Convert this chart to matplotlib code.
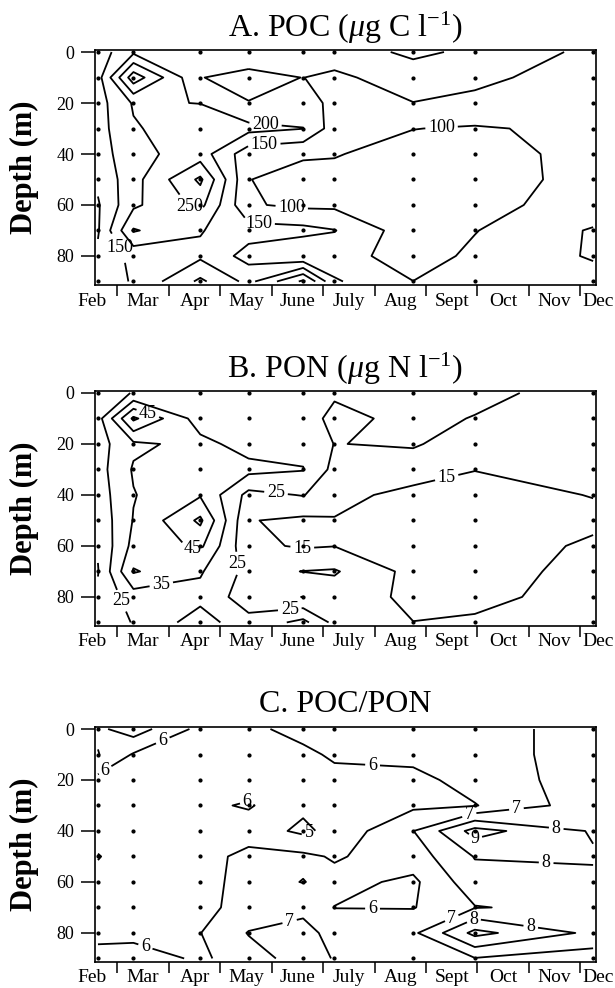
import numpy as np
import matplotlib.pyplot as plt
from matplotlib.transforms import blended_transform_factory

plt.rcParams['font.family'] = 'Liberation Serif'
plt.rcParams['mathtext.fontset'] = 'custom'
plt.rcParams['mathtext.rm'] = 'Liberation Serif'
plt.rcParams['mathtext.it'] = 'Liberation Serif:italic'

# sampling dates in months (1.0 = 1 Feb) and sampled depths (m)
dates = [1.62, 2.31, 3.61, 4.55, 5.61, 6.22, 7.75, 8.95, 11.25]
depths = [0, 10, 20, 30, 40, 50, 60, 70, 80, 90]
months = ['Feb', 'Mar', 'Apr', 'May', 'June', 'July', 'Aug', 'Sept', 'Oct', 'Nov', 'Dec']

# POC profiles (ug C/l), one list per sampling date, 0-90 m
poc = [
    [125, 130, 130, 130, 125, 110, 95, 95, 110, 120],
    [190, 330, 205, 195, 185, 182, 190, 255, 165, 155],
    [170, 151, 199, 230, 224, 310, 265, 203, 190, 260],
    [170, 140, 151, 215, 120, 101, 105, 170, 132, 185],
    [175, 150.5, 175, 201, 105, 85, 90, 165, 103, 310],
    [175, 140, 135, 125, 103, 85, 90, 152, 120, 156],
    [210, 175, 149, 101, 80, 75, 75, 69.5, 77.5, 100.5],
    [190, 160, 140, 95, 85, 85, 88, 98, 110, 120],
    [137, 129, 125, 112, 112, 111, 117, 155, 155, 130],
]

# PON profiles (ug N/l)
pon = [
    [20, 21, 21, 21, 20, 18, 16, 14.5, 17, 19],
    [25.5, 57, 33, 36, 34.5, 35.5, 38, 46, 30, 25.5],
    [28, 30, 38, 40, 44, 57, 47, 36, 32, 40],
    [30, 29, 31, 38, 22, 15.5, 17, 22, 20, 28],
    [28, 30, 31, 35.5, 25.5, 13, 14, 25.2, 14.8, 38],
    [26.5, 22, 24.8, 22, 18, 14.5, 14.8, 26, 20, 22],
    [30, 28, 26, 20, 12, 10, 9, 11.7, 13, 15.1],
    [28, 24.5, 20, 15.2, 12, 11, 10, 11, 13, 16],
    [20.1, 19, 18, 17, 15.3, 13, 16.5, 18, 18, 17],
]

# POC/PON ratio profiles
ratio = [
    [6.8, 7.05, 5.7, 5.6, 5.6, 6.05, 5.7, 5.6, 5.6, 6.5],
    [7.5, 5.91, 5.5, 5.4, 5.5, 5.5, 5.5, 5.6, 5.6, 6.63],
    [5.71, 5.7, 5.6, 5.8, 5.7, 5.6, 5.6, 5.7, 5.98, 5.8],
    [5.7, 5.6, 5.5, 6.1, 5.5, 6.3, 6.4, 6.4, 7.05, 6.6],
    [6.45, 5.7, 5.5, 5.2, 4.8, 6.21, 5.97, 6.7, 7.4, 7.4],
    [6.5, 6.2, 5.6, 5.5, 5.3, 5.9, 6.3, 5.98, 6.6, 6.95],
    [6.5, 6.3, 5.7, 5.8, 6.98, 6.5, 5.8, 5.95, 6.8, 6.6],
    [6.5, 6.5, 6.4, 5.95, 9.4, 8.05, 7.62, 6.95, 9.3, 6.95],
    [7.5, 7.5, 7.5, 7.6, 7.9, 8.1, 7.8, 7.3, 7.77, 6.49],
]

poc_levels = [100, 150, 200, 250, 300]
pon_levels = [15, 25, 35, 45, 55]
ratio_levels = [5, 6, 7, 8, 9]

# where the contour labels go (month, depth)
poc_labels = [(4.89, 26), (4.85, 35.3), (8.3, 28.6), (3.33, 64), (5.38, 62.7),
              (4.74, 68.6), (2.03, 76.9)]
pon_labels = [(2.6, 7.4), (3.4, 64.2), (2.86, 76), (2.1, 81.3), (4.36, 66.8),
              (5.09, 37.9), (5.58, 62.9), (5.35, 84.6), (8.38, 31.3)]
ratio_labels = [(2.94, 7.2), (1.79, 17.1), (4.51, 27.6), (5.77, 44), (6.96, 14.5),
                (8.83, 32.9), (9.76, 31.6), (10.53, 39.5), (8.91, 44.7), (10.33, 55.3),
                (6.96, 71.3), (5.35, 75.7), (8.46, 72.4), (8.95, 75.7), (10.06, 74.3),
                (2.55, 84.9)]

panels = [
    (r'A. POC ($\mu$g C l$^{-1}$)', poc, poc_levels, poc_labels, 0.7115),
    (r'B. PON ($\mu$g N l$^{-1}$)', pon, pon_levels, pon_labels, 0.3664),
    ('C. POC/PON', ratio, ratio_levels, ratio_labels, 0.0263),
]

fig = plt.figure(figsize=(6.15, 9.88), dpi=100)

X, Y = np.meshgrid(dates, depths)

for title, data, levels, label_pos, bottom in panels:
    ax = fig.add_axes([0.1545, bottom, 0.8146, 0.2379])
    Z = np.array(data).T

    cs = ax.contour(dates, depths, Z, levels=levels, colors='k', linewidths=1.3)
    texts = ax.clabel(cs, fmt='%d', fontsize=13, inline=True, inline_spacing=3,
                      manual=label_pos)
    for t in texts:
        t.set_rotation(0)

    # sample positions
    ax.scatter(X.ravel(), Y.ravel(), s=4, color='k', zorder=3, clip_on=False)

    ax.set_xlim(1.563, 11.306)
    ax.set_ylim(91.4, -0.8)

    ax.set_xticks(range(2, 12))
    ax.set_xticklabels([])
    ax.tick_params(axis='x', direction='out', length=8, width=1.1)
    ax.set_yticks([0, 20, 40, 60, 80])
    ax.tick_params(axis='y', direction='out', length=10, width=1.1, labelsize=13, pad=5)
    for s in ax.spines.values():
        s.set_linewidth(1.2)

    # month names sit between the month ticks
    trans = blended_transform_factory(ax.transData, ax.transAxes)
    for i, m in enumerate(months):
        xm = min(1.5 + i, 11.35)
        ax.text(xm, -0.068, m, transform=trans, ha='center', va='center',
                fontsize=14, clip_on=False)

    ax.set_ylabel('Depth (m)', fontsize=22, fontweight='bold')
    ax.yaxis.set_label_coords(-0.112, 0.5)
    ax.text(0.5, 1.095, title, transform=ax.transAxes, ha='center', va='center',
            fontsize=23)

fig.savefig('out.png', dpi=100)
